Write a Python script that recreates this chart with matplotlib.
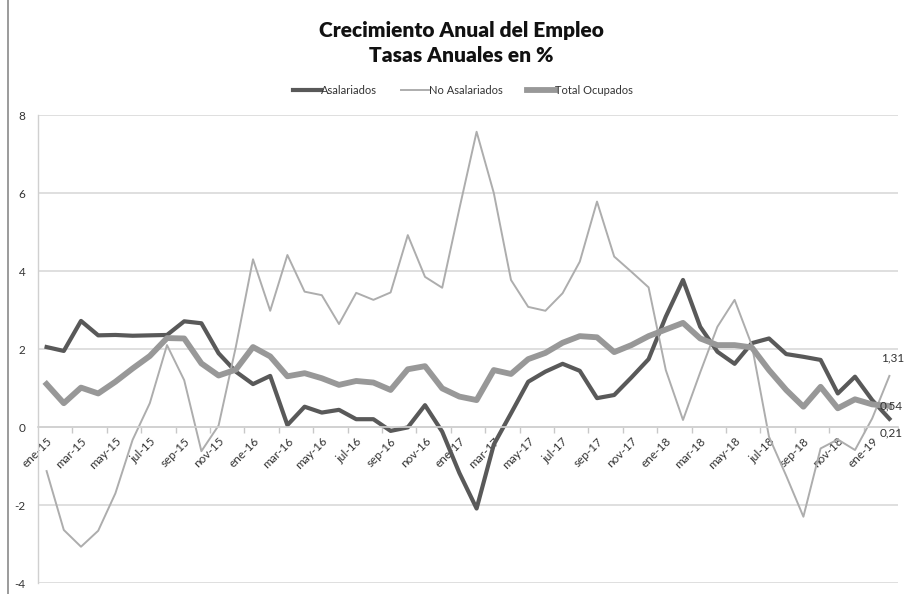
import matplotlib
matplotlib.use("Agg")
import matplotlib.pyplot as plt
from matplotlib.lines import Line2D
from matplotlib.ticker import FixedLocator

plt.rcParams['font.family'] = ['Lato', 'DejaVu Sans']

months = ["ene", "feb", "mar", "abr", "may", "jun", "jul", "ago", "sep", "oct", "nov", "dic"]
years = ["15", "16", "17", "18", "19"]
categories = [f"{m}-{y}" for y in years for m in months][:50]

asalariados = [2.05, 1.95, 2.72, 2.35, 2.36, 2.34, 2.35, 2.36, 2.71, 2.66,
               1.89, 1.42, 1.10, 1.31, 0.05, 0.52, 0.37, 0.44, 0.20, 0.20,
               -0.10, -0.01, 0.56, -0.12, -1.18, -2.09, -0.45, 0.35, 1.16, 1.42,
               1.62, 1.44, 0.74, 0.82, 1.27, 1.74, 2.83, 3.77, 2.57, 1.93,
               1.62, 2.15, 2.27, 1.87, 1.80, 1.72, 0.86, 1.29, 0.69, 0.21]
no_asalariados = [-1.13, -2.64, -3.07, -2.66, -1.70, -0.33, 0.61, 2.10, 1.20, -0.62,
                  0.04, 2.05, 4.30, 2.98, 4.41, 3.47, 3.38, 2.64, 3.44, 3.26,
                  3.45, 4.92, 3.85, 3.57, 5.60, 7.57, 6.00, 3.77, 3.08, 2.98,
                  3.43, 4.24, 5.78, 4.37, 3.98, 3.58, 1.46, 0.18, 1.40, 2.57,
                  3.26, 2.10, -0.25, -1.25, -2.30, -0.55, -0.32, -0.59, 0.22, 1.31]
total_ocupados = [1.10, 0.61, 1.01, 0.86, 1.16, 1.50, 1.82, 2.28, 2.27, 1.63,
                  1.32, 1.47, 2.05, 1.81, 1.30, 1.38, 1.25, 1.08, 1.18, 1.14,
                  0.95, 1.48, 1.56, 0.99, 0.78, 0.69, 1.46, 1.36, 1.74, 1.90,
                  2.16, 2.33, 2.30, 1.92, 2.10, 2.33, 2.50, 2.67, 2.27, 2.10,
                  2.10, 2.04, 1.46, 0.95, 0.52, 1.03, 0.48, 0.71, 0.58, 0.54]
yticks = [-4, -2, 0, 2, 4, 6, 8]

W, H = 905, 594
fig = plt.figure(figsize=(W / 100, H / 100), dpi=100)
ax = fig.add_axes([38 / W, 1 - 583 / H, (898 - 38) / W, (583 - 115) / H])

x = list(range(len(categories)))
ax.plot(x, asalariados, color="#595959", lw=3.0, label="Asalariados", solid_joinstyle="round")
ax.plot(x, no_asalariados, color="#adadad", lw=1.4, label="No Asalariados", solid_joinstyle="round")
ax.plot(x, total_ocupados, color="#989898", lw=4.2, label="Total Ocupados", solid_joinstyle="round")

ax.set_xlim(-0.5, len(categories) - 0.5)
ax.set_ylim(-4, 8)
ax.set_yticks(yticks)
ax.set_yticklabels([str(v) for v in yticks])
ax.grid(axis="y", color="#d9d9d9", lw=1.2)
ax.set_axisbelow(True)

for s in ["top", "right"]:
    ax.spines[s].set_visible(False)
ax.spines["left"].set_color("#d0d0d0")
ax.spines["left"].set_linewidth(1.0)
ax.spines["bottom"].set_position(("data", 0))
ax.spines["bottom"].set_color("#d0d0d0")
ax.spines["bottom"].set_linewidth(1.2)

ax.tick_params(axis="y", length=0, pad=9, labelsize=8.5, labelcolor="#333333")
ax.set_xticks(x[::2])
ax.set_xticklabels(categories[::2], rotation=45, ha="right", rotation_mode="anchor",
                   fontsize=8.5, color="#333333")
ax.tick_params(axis="x", which="major", length=0, pad=6)
ax.xaxis.set_minor_locator(FixedLocator([v + 1.5 for v in x[::2]]))
ax.tick_params(axis="x", which="minor", length=4, color="#c8c8c8", width=1)

ax.annotate("1,31", (x[-1], no_asalariados[-1]), xytext=(-6, 13), textcoords="offset points",
            fontsize=8.5, color="#333333", ha="left", va="center", annotation_clip=False)
ax.annotate("0,54", (x[-1], total_ocupados[-1]), xytext=(-7, 0), textcoords="offset points",
            fontsize=8.5, color="#333333", ha="left", va="center", annotation_clip=False)
ax.annotate("0,21", (x[-1], asalariados[-1]), xytext=(-7, -10), textcoords="offset points",
            fontsize=8.5, color="#333333", ha="left", va="center", annotation_clip=False)

fig.text(461 / W, 1 - 30 / H, "Crecimiento Anual del Empleo", ha="center", va="center",
         fontsize=15, fontweight="heavy", color="#111111")
fig.text(461 / W, 1 - 55 / H, "Tasas Anuales en %", ha="center", va="center",
         fontsize=15, fontweight="heavy", color="#111111")

leg = fig.legend(loc="center", bbox_to_anchor=(463 / W, 1 - 90 / H), ncol=3, frameon=False,
                 fontsize=8, handlelength=2.5, handletextpad=0.0, columnspacing=2.2)
for t in leg.get_texts():
    t.set_color("#333333")

fig.add_artist(Line2D([8 / W, 8 / W], [0, 1], color="#8a8a8a", lw=1.2))

fig.savefig("out.png", dpi=100)
